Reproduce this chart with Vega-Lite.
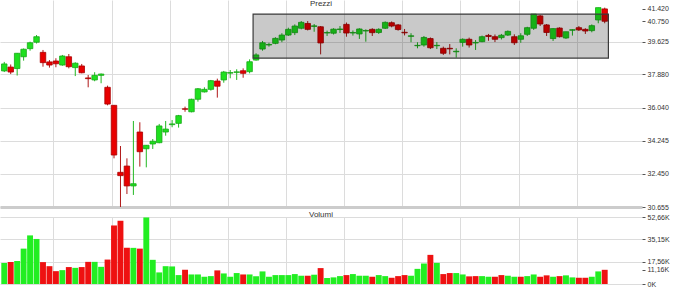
{
"$schema": "https://vega.github.io/schema/vega-lite/v6.json",
"padding": 0,
"background": "white",
"spacing": 0,
"config": {"view": {"stroke": null}, "font": "Liberation Sans",
  "axis": {"labelFont": "Liberation Sans", "labelFontSize": 7, "labelColor": "#333333", "tickColor": "#555555", "tickSize": 3, "labelPadding": 2, "labelOverlap": false, "domain": false, "gridColor": "#dcdcdc", "gridWidth": 1},
  "title": {"font": "Liberation Sans", "fontSize": 8, "fontWeight": "normal", "color": "#333333", "anchor": "middle"}},
"datasets": {
"p": [
{"t":0,"o":38.05,"h":38.54,"l":37.99,"c":38.43,"v":16.6,"vu":1},
{"t":1,"o":38.26,"h":38.40,"l":37.88,"c":37.99,"v":17.2,"vu":0},
{"t":2,"o":38.18,"h":39.02,"l":37.80,"c":39.01,"v":18.0,"vu":1},
{"t":3,"o":38.82,"h":39.27,"l":38.61,"c":39.23,"v":27.8,"vu":1},
{"t":4,"o":39.26,"h":39.64,"l":39.15,"c":39.58,"v":38.2,"vu":1},
{"t":5,"o":39.61,"h":40.00,"l":39.54,"c":39.91,"v":35.4,"vu":1},
{"t":6,"o":39.06,"h":39.19,"l":38.28,"c":38.50,"v":17.2,"vu":0},
{"t":7,"o":38.54,"h":38.64,"l":38.23,"c":38.37,"v":14.0,"vu":0},
{"t":8,"o":38.59,"h":38.74,"l":38.25,"c":38.44,"v":10.1,"vu":0},
{"t":9,"o":38.37,"h":38.92,"l":38.33,"c":38.86,"v":10.9,"vu":1},
{"t":10,"o":38.82,"h":38.97,"l":38.19,"c":38.28,"v":13.3,"vu":0},
{"t":11,"o":38.23,"h":38.52,"l":37.77,"c":38.47,"v":12.7,"vu":1},
{"t":12,"o":38.32,"h":38.43,"l":37.92,"c":37.95,"v":13.3,"vu":0},
{"t":13,"o":37.67,"h":37.83,"l":37.16,"c":37.63,"v":17.4,"vu":0},
{"t":14,"o":37.56,"h":37.98,"l":37.49,"c":37.81,"v":17.4,"vu":1},
{"t":15,"o":37.81,"h":37.91,"l":37.38,"c":37.88,"v":13.5,"vu":1},
{"t":16,"o":37.16,"h":37.25,"l":36.18,"c":36.25,"v":19.2,"vu":0},
{"t":17,"o":36.18,"h":36.20,"l":33.30,"c":33.48,"v":46.0,"vu":0},
{"t":18,"o":32.54,"h":33.97,"l":30.655,"c":32.36,"v":49.7,"vu":0},
{"t":19,"o":32.88,"h":33.30,"l":31.36,"c":31.80,"v":28.4,"vu":0},
{"t":20,"o":31.80,"h":35.33,"l":31.31,"c":31.92,"v":28.4,"vu":1},
{"t":21,"o":34.73,"h":35.26,"l":32.85,"c":33.66,"v":27.8,"vu":0},
{"t":22,"o":33.82,"h":34.02,"l":32.81,"c":34.01,"v":52.3,"vu":1},
{"t":23,"o":34.08,"h":34.35,"l":33.81,"c":34.23,"v":19.0,"vu":1},
{"t":24,"o":34.15,"h":35.17,"l":34.12,"c":35.06,"v":9.1,"vu":1},
{"t":25,"o":34.73,"h":35.33,"l":34.53,"c":34.89,"v":14.0,"vu":1},
{"t":26,"o":35.13,"h":35.38,"l":34.99,"c":35.17,"v":13.8,"vu":1},
{"t":27,"o":35.20,"h":35.66,"l":34.97,"c":35.62,"v":7.0,"vu":1},
{"t":28,"o":35.99,"h":36.11,"l":35.83,"c":35.97,"v":11.2,"vu":0},
{"t":29,"o":35.83,"h":36.54,"l":35.80,"c":36.51,"v":7.5,"vu":1},
{"t":30,"o":36.51,"h":37.12,"l":36.38,"c":37.08,"v":7.5,"vu":1},
{"t":31,"o":36.91,"h":37.16,"l":36.88,"c":37.05,"v":5.7,"vu":1},
{"t":32,"o":37.05,"h":37.56,"l":36.98,"c":37.52,"v":6.2,"vu":1},
{"t":33,"o":37.50,"h":37.63,"l":36.60,"c":37.22,"v":10.7,"vu":0},
{"t":34,"o":37.56,"h":38.05,"l":37.41,"c":37.99,"v":8.3,"vu":1},
{"t":35,"o":37.93,"h":38.10,"l":37.65,"c":37.96,"v":5.7,"vu":1},
{"t":36,"o":37.97,"h":38.14,"l":37.56,"c":38.00,"v":8.6,"vu":1},
{"t":37,"o":38.06,"h":38.19,"l":37.68,"c":37.92,"v":7.5,"vu":0},
{"t":38,"o":38.01,"h":38.68,"l":37.92,"c":38.55,"v":7.5,"vu":1},
{"t":39,"o":38.64,"h":39.01,"l":38.61,"c":38.92,"v":6.0,"vu":1},
{"t":40,"o":39.24,"h":39.68,"l":39.15,"c":39.58,"v":9.9,"vu":1},
{"t":41,"o":39.46,"h":39.58,"l":39.37,"c":39.49,"v":5.7,"vu":1},
{"t":42,"o":39.55,"h":39.88,"l":39.50,"c":39.82,"v":7.0,"vu":1},
{"t":43,"o":39.73,"h":40.10,"l":39.61,"c":40.00,"v":7.0,"vu":1},
{"t":44,"o":40.00,"h":40.40,"l":39.95,"c":40.31,"v":7.0,"vu":1},
{"t":45,"o":40.13,"h":40.58,"l":40.00,"c":40.49,"v":7.8,"vu":1},
{"t":46,"o":40.37,"h":40.76,"l":40.31,"c":40.69,"v":6.5,"vu":1},
{"t":47,"o":40.63,"h":40.76,"l":40.25,"c":40.31,"v":6.5,"vu":0},
{"t":48,"o":40.47,"h":40.60,"l":40.18,"c":40.50,"v":7.3,"vu":1},
{"t":49,"o":40.45,"h":40.49,"l":38.95,"c":39.57,"v":12.5,"vu":0},
{"t":50,"o":40.11,"h":40.24,"l":39.95,"c":40.14,"v":4.7,"vu":1},
{"t":51,"o":40.10,"h":40.37,"l":40.03,"c":40.32,"v":5.2,"vu":1},
{"t":52,"o":40.30,"h":40.49,"l":40.11,"c":40.33,"v":6.2,"vu":1},
{"t":53,"o":40.58,"h":40.68,"l":39.91,"c":40.11,"v":7.0,"vu":0},
{"t":54,"o":40.11,"h":40.25,"l":39.97,"c":40.14,"v":7.8,"vu":1},
{"t":55,"o":40.06,"h":40.37,"l":39.79,"c":40.33,"v":6.5,"vu":1},
{"t":56,"o":40.22,"h":40.31,"l":39.64,"c":40.25,"v":6.5,"vu":1},
{"t":57,"o":40.31,"h":40.37,"l":39.95,"c":40.13,"v":5.7,"vu":0},
{"t":58,"o":40.14,"h":40.37,"l":40.06,"c":40.31,"v":7.0,"vu":1},
{"t":59,"o":40.37,"h":40.74,"l":40.33,"c":40.69,"v":6.2,"vu":1},
{"t":60,"o":40.67,"h":40.74,"l":40.42,"c":40.49,"v":4.9,"vu":0},
{"t":61,"o":40.55,"h":40.60,"l":40.24,"c":40.30,"v":6.2,"vu":0},
{"t":62,"o":40.15,"h":40.33,"l":39.98,"c":40.12,"v":7.0,"vu":0},
{"t":63,"o":39.93,"h":40.10,"l":39.61,"c":39.96,"v":6.5,"vu":1},
{"t":64,"o":39.42,"h":39.61,"l":39.28,"c":39.44,"v":11.9,"vu":1},
{"t":65,"o":39.46,"h":39.95,"l":39.37,"c":39.87,"v":16.1,"vu":1},
{"t":66,"o":39.81,"h":39.87,"l":39.24,"c":39.31,"v":22.9,"vu":0},
{"t":67,"o":39.42,"h":39.62,"l":39.24,"c":39.44,"v":16.6,"vu":1},
{"t":68,"o":39.28,"h":39.37,"l":38.92,"c":39.01,"v":7.8,"vu":0},
{"t":69,"o":39.28,"h":39.51,"l":38.95,"c":39.25,"v":8.6,"vu":0},
{"t":70,"o":39.09,"h":39.28,"l":38.77,"c":39.12,"v":8.6,"vu":1},
{"t":71,"o":39.60,"h":39.82,"l":39.37,"c":39.77,"v":7.5,"vu":1},
{"t":72,"o":39.77,"h":39.86,"l":39.32,"c":39.46,"v":6.0,"vu":0},
{"t":73,"o":39.57,"h":39.73,"l":39.19,"c":39.60,"v":6.2,"vu":0},
{"t":74,"o":39.64,"h":39.97,"l":39.61,"c":39.91,"v":6.2,"vu":1},
{"t":75,"o":39.98,"h":40.06,"l":39.69,"c":39.92,"v":5.7,"vu":1},
{"t":76,"o":39.91,"h":40.03,"l":39.62,"c":39.77,"v":5.7,"vu":0},
{"t":77,"o":39.86,"h":40.06,"l":39.76,"c":39.99,"v":7.0,"vu":0},
{"t":78,"o":40.00,"h":40.25,"l":39.95,"c":40.20,"v":6.5,"vu":1},
{"t":79,"o":39.91,"h":40.04,"l":39.46,"c":39.58,"v":5.7,"vu":1},
{"t":80,"o":39.77,"h":40.10,"l":39.58,"c":39.96,"v":5.7,"vu":0},
{"t":81,"o":40.04,"h":40.45,"l":39.95,"c":40.40,"v":6.2,"vu":1},
{"t":82,"o":40.37,"h":41.14,"l":40.28,"c":41.14,"v":7.5,"vu":1},
{"t":83,"o":41.04,"h":41.09,"l":40.49,"c":40.60,"v":5.7,"vu":0},
{"t":84,"o":40.55,"h":40.60,"l":39.95,"c":40.14,"v":6.8,"vu":0},
{"t":85,"o":39.81,"h":40.37,"l":39.68,"c":40.35,"v":5.7,"vu":1},
{"t":86,"o":40.38,"h":40.42,"l":39.87,"c":39.91,"v":6.2,"vu":0},
{"t":87,"o":39.84,"h":40.18,"l":39.79,"c":40.18,"v":6.8,"vu":1},
{"t":88,"o":40.26,"h":40.31,"l":39.97,"c":40.29,"v":5.2,"vu":1},
{"t":89,"o":40.40,"h":40.49,"l":40.22,"c":40.28,"v":4.9,"vu":0},
{"t":90,"o":40.31,"h":40.37,"l":40.06,"c":40.22,"v":4.9,"vu":0},
{"t":91,"o":40.24,"h":40.58,"l":40.15,"c":40.51,"v":5.7,"vu":1},
{"t":92,"o":40.82,"h":41.49,"l":40.64,"c":41.49,"v":9.9,"vu":1},
{"t":93,"o":41.42,"h":41.49,"l":40.64,"c":40.75,"v":11.16,"vu":0}
],
"box": [{"t1": 38.54, "t2": 93.57, "y1": 38.75, "y2": 41.14}]
},
"vconcat": [
{
 "width": 642, "height": 207,
 "title": {"text": "Prezzi", "offset": -8},
 "data": {"name": "p"},
 "layer": [
  {"mark": {"type": "rule", "clip": true, "strokeWidth": 1},
   "encoding": {
    "x": {"field": "t", "type": "quantitative", "scale": {"domain": [0.116, 98.0], "nice": false, "zero": false},
          "axis": {"values": [7.6, 16.65, 25.7, 34.7, 43.6, 52.6, 61.6, 70.65, 79.7, 88.7], "tickCount": 20, "labels": false, "ticks": false, "domain": true, "domainColor": "#cccccc", "domainWidth": 3, "grid": true, "title": null}},
    "y": {"field": "l", "type": "quantitative", "scale": {"domain": [30.655, 41.905], "nice": false, "zero": false},
          "axis": {"orient": "right", "values": [30.655, 32.45, 34.245, 36.04, 37.88, 39.625, 40.75, 41.42], "tickCount": 20, "format": ".3f", "title": null, "grid": true, "labelOverlap": false, "labelSeparation": 0,
                   "gridOpacity": {"condition": {"test": "datum.value > 40", "value": 0}, "value": 1}}},
    "y2": {"field": "h"},
    "color": {"condition": {"test": "datum.c >= datum.o", "value": "#22b822"}, "value": "#b01818"}
   }},
  {"mark": {"type": "bar", "size": 5.5, "clip": true, "strokeWidth": 0.8},
   "encoding": {
    "x": {"field": "t", "type": "quantitative"},
    "y": {"field": "o", "type": "quantitative"},
    "y2": {"field": "c"},
    "fill": {"condition": {"test": "datum.c >= datum.o", "value": "#1ee01e"}, "value": "#e80000"},
    "stroke": {"condition": {"test": "datum.c >= datum.o", "value": "#18a818"}, "value": "#a80000"}
   }},
  {"data": {"name": "box"},
   "mark": {"type": "rect", "fill": "#000000", "fillOpacity": 0.21, "stroke": "#3a3a3a", "strokeWidth": 1.2},
   "encoding": {
    "x": {"field": "t1", "type": "quantitative"},
    "x2": {"field": "t2"},
    "y": {"field": "y1", "type": "quantitative"},
    "y2": {"field": "y2"}
   }}
 ]
},
{
 "width": 642, "height": 67,
 "title": {"text": "Volumi", "offset": -5.5},
 "data": {"name": "p"},
 "mark": {"type": "bar", "size": 5.9, "clip": true},
 "encoding": {
  "x": {"field": "t", "type": "quantitative", "scale": {"domain": [0.116, 98.0], "nice": false, "zero": false},
        "axis": {"values": [7.6, 16.65, 25.7, 34.7, 43.6, 52.6, 61.6, 70.65, 79.7, 88.7], "tickCount": 20, "labels": false, "ticks": false, "domain": false, "grid": true, "title": null}},
  "y": {"field": "v", "type": "quantitative", "scale": {"domain": [0, 52.66], "nice": false},
        "axis": {"orient": "right", "values": [0, 11.16, 17.56, 35.15, 52.66], "tickCount": 20, "title": null, "grid": true, "labelOverlap": false,
                 "labelExpr": "datum.value == 0 ? '0K' : replace(format(datum.value, '.2f'), '.', ',') + 'K'",
                 "gridOpacity": {"condition": {"test": "datum.value == 11.16", "value": 0}, "value": 1}}},
  "color": {"condition": {"test": "datum.vu == 1", "value": "#22ee22"}, "value": "#ee1111"}
 }
}
]
}
